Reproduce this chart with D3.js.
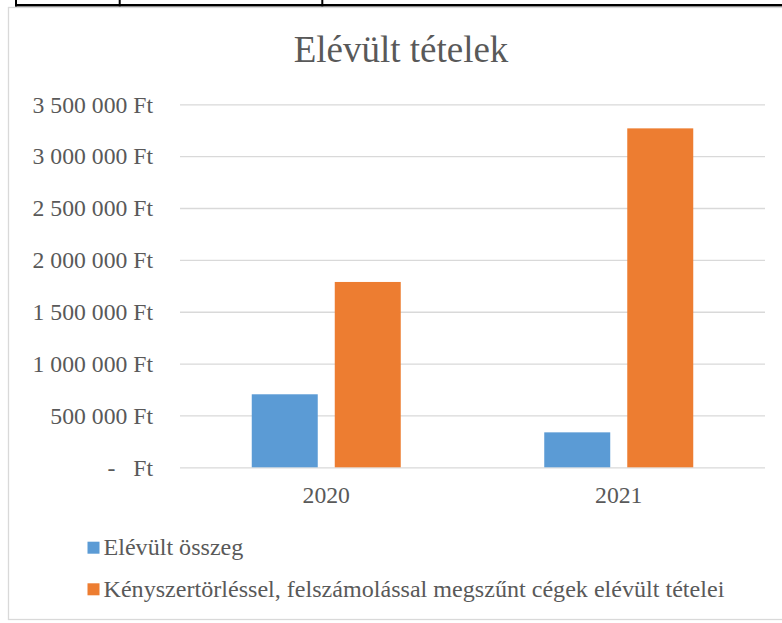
<!DOCTYPE html>
<html>
<head>
<meta charset="utf-8">
<script src="https://cdn.jsdelivr.net/npm/d3@7"></script>
<style>
    body { margin: 0; background: #fff; }
    svg { display: block; }
    text { font-family: "Liberation Serif", "Times New Roman", serif; fill: #595959; }
</style>
</head>
<body>
<svg id="chart" width="782" height="623"></svg>
<script>
// data
const years = ['2020', '2021']
const seriesNames = ['Elévült összeg', 'Kényszertörléssel, felszámolással megszűnt cégek elévült tételei']
const elevultOsszeg = [704000, 337000]
const kenyszertorles = [1787000, 3268000]
const yTicks = [0, 500000, 1000000, 1500000, 2000000, 2500000, 3000000, 3500000]
const colors = ['#5B9BD5', '#ED7D31']

const svg = d3.select('#chart')

// bits of the table row above the chart
svg.append('line')
    .attr('x1', 15).attr('x2', 782).attr('y1', 5.2).attr('y2', 5.2)
    .attr('stroke', '#000').attr('stroke-width', 2.4)
;[16, 119.7, 322.3].forEach(x => {
    svg.append('line')
        .attr('x1', x).attr('x2', x).attr('y1', 0).attr('y2', 6.4)
        .attr('stroke', '#000').attr('stroke-width', 2)
})

// chart frame
svg.append('rect')
    .attr('x', 8.5).attr('y', 7.5)
    .attr('width', 800).attr('height', 612)
    .attr('fill', '#fff').attr('stroke', '#D9D9D9').attr('stroke-width', 1.3)

const M = { left: 180, right: 765, top: 104.3, bottom: 467.3 }

const x = d3.scaleBand().domain(years).range([M.left, M.right])
const xInner = d3.scaleBand()
    .domain([0, 1])
    .range([71.75, x.bandwidth() - 71.75])
    .paddingInner(0.205)
const y = d3.scaleLinear().domain([0, 3500000]).range([M.bottom, M.top])

const fmt = d => d === 0 ? '-\u00a0\u00a0\u00a0Ft' : d3.format(',')(d).replace(/,/g, '\u00a0') + '\u00a0Ft'

// gridlines + y labels
const yAxis = d3.axisLeft(y).tickValues(yTicks).tickFormat(fmt)
    .tickSize(-(M.right - M.left)).tickPadding(27)
const yg = svg.append('g')
    .attr('transform', `translate(${M.left},0)`)
    .call(yAxis)
yg.select('.domain').remove()
yg.selectAll('.tick line').attr('stroke', '#D9D9D9').attr('stroke-width', 1.3)
yg.selectAll('.tick text')
    .attr('font-size', 23.7)
    .attr('fill', '#595959')
    .attr('dy', '0.33em')

// x labels
const xAxis = d3.axisBottom(x).tickSize(0).tickPadding(0)
const xg = svg.append('g')
    .attr('transform', `translate(0,${M.bottom})`)
    .call(xAxis)
xg.select('.domain').remove()
xg.selectAll('.tick text')
    .attr('font-size', 23.7)
    .attr('fill', '#595959')
    .attr('dy', 36)

// bars
const table = years.map((yr, i) => ({ year: yr, values: [elevultOsszeg[i], kenyszertorles[i]] }))
const groups = svg.selectAll('.grp')
    .data(table)
    .join('g')
    .attr('class', 'grp')
    .attr('transform', d => `translate(${x(d.year)},0)`)
groups.selectAll('rect')
    .data(d => d.values.map((v, s) => ({ s, v })))
    .join('rect')
    .attr('x', d => xInner(d.s))
    .attr('y', d => y(d.v))
    .attr('width', xInner.bandwidth())
    .attr('height', d => y(0) - y(d.v))
    .attr('fill', d => colors[d.s])

// title
svg.append('text')
    .attr('x', 401).attr('y', 62.3)
    .attr('text-anchor', 'middle')
    .attr('font-size', 37)
    .text('Elévült tételek')

// legend
const legendY = [541.7, 583.3]
const leg = svg.selectAll('.leg')
    .data(seriesNames)
    .join('g')
    .attr('class', 'leg')
    .attr('transform', (d, i) => `translate(87.5,${legendY[i]})`)
leg.append('rect')
    .attr('width', 12).attr('height', 12)
    .attr('fill', (d, i) => colors[i])
leg.append('text')
    .attr('x', 16).attr('y', 13.5)
    .attr('font-size', 24.1)
    .text(d => d)
</script>
</body>
</html>
